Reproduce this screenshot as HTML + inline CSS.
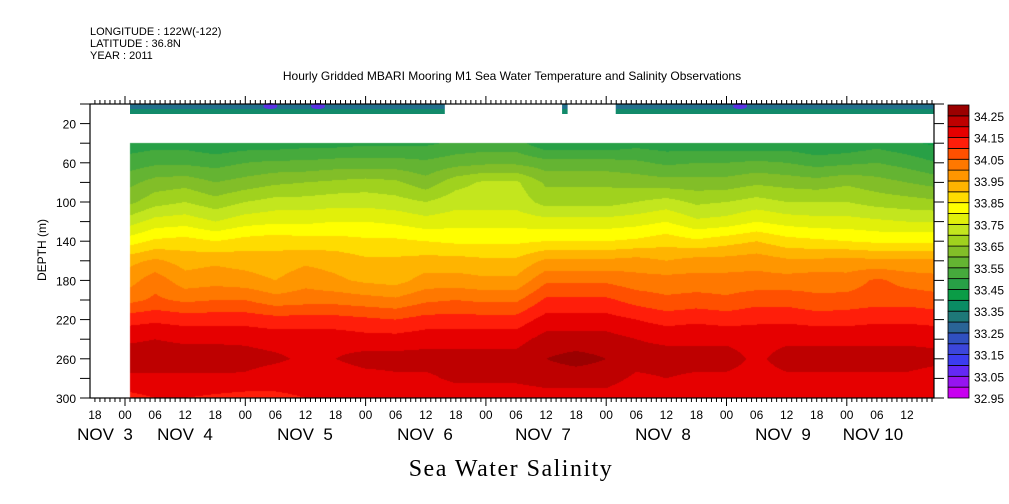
<!DOCTYPE html>
<html><head><meta charset="utf-8">
<style>
body{margin:0;background:#fff;}
#wrap{position:relative;width:1009px;height:504px;overflow:hidden;background:#fff;font-family:"Liberation Sans",sans-serif;}
canvas,svg{position:absolute;left:0;top:0;}
</style></head>
<body>
<div id="wrap">
<canvas id="field" width="1009" height="504"></canvas>
<svg id="svg" width="1009" height="504"></svg>
</div>
<script>
// ---- data ----
const depths = [40,60,80,100,120,140,160,180,200,220,240,260,280,300];
// time columns: hours since Nov 3 00:00, every 6 h
const hours = [0,6,12,18,24,30,36,42,48,54,60,66,72,78,84,90,96,102,108,114,120,126,132,138,144,150,156,162];
const sal40  = [33.47,33.48,33.48,33.46,33.47,33.47,33.48,33.48,33.49,33.49,33.49,33.51,33.52,33.52,33.46,33.46,33.46,33.48,33.47,33.47,33.47,33.46,33.47,33.45,33.46,33.48,33.46,33.44];
const sal60  = [33.52,33.54,33.54,33.53,33.55,33.56,33.56,33.57,33.57,33.57,33.56,33.58,33.59,33.59,33.57,33.57,33.57,33.56,33.54,33.55,33.55,33.56,33.55,33.53,33.54,33.55,33.53,33.50];
const sal80  = [33.58,33.62,33.63,33.60,33.62,33.64,33.65,33.66,33.67,33.66,33.62,33.68,33.71,33.71,33.64,33.64,33.64,33.63,33.62,33.62,33.62,33.64,33.63,33.62,33.64,33.62,33.60,33.58];
const sal100 = [33.63,33.68,33.70,33.67,33.70,33.72,33.72,33.73,33.73,33.72,33.70,33.73,33.73,33.73,33.68,33.68,33.68,33.70,33.72,33.69,33.70,33.72,33.70,33.70,33.70,33.68,33.67,33.66];
const sal120 = [33.72,33.77,33.78,33.75,33.78,33.79,33.79,33.80,33.80,33.79,33.77,33.78,33.78,33.78,33.77,33.77,33.77,33.78,33.80,33.76,33.77,33.80,33.78,33.77,33.77,33.76,33.75,33.75];
const sal140 = [33.82,33.86,33.87,33.85,33.87,33.88,33.87,33.87,33.86,33.86,33.85,33.84,33.84,33.84,33.85,33.85,33.85,33.86,33.88,33.86,33.88,33.90,33.87,33.86,33.85,33.84,33.84,33.84];
const sal160 = [33.93,33.96,33.93,33.94,33.93,33.92,33.94,33.93,33.91,33.91,33.92,33.92,33.91,33.91,33.96,33.96,33.96,33.97,33.95,33.97,33.97,33.98,33.96,33.96,33.97,33.96,33.96,33.96];
const sal180 = [33.97,34.03,33.97,33.98,33.97,33.95,33.98,33.96,33.94,33.93,33.97,33.97,33.96,33.96,34.04,34.04,34.04,34.02,34.02,34.02,34.02,34.02,34.02,34.03,34.02,34.06,34.03,34.02];
const sal200 = [34.03,34.06,34.04,34.05,34.05,34.02,34.03,34.03,34.02,34.01,34.04,34.05,34.04,34.04,34.11,34.11,34.11,34.08,34.06,34.07,34.06,34.08,34.08,34.06,34.07,34.08,34.08,34.07];
const sal220 = [34.13,34.14,34.13,34.13,34.13,34.12,34.12,34.12,34.11,34.10,34.12,34.12,34.12,34.12,34.17,34.17,34.17,34.15,34.13,34.14,34.13,34.14,34.14,34.13,34.13,34.14,34.14,34.13];
const sal240 = [34.19,34.20,34.19,34.19,34.19,34.18,34.18,34.18,34.17,34.17,34.18,34.18,34.18,34.18,34.22,34.22,34.22,34.20,34.19,34.19,34.19,34.18,34.19,34.19,34.19,34.19,34.19,34.19];
const sal260 = [34.23,34.23,34.23,34.23,34.22,34.21,34.19,34.20,34.22,34.22,34.22,34.22,34.22,34.22,34.25,34.27,34.25,34.22,34.22,34.22,34.22,34.19,34.22,34.22,34.22,34.22,34.22,34.21];
const sal280 = [34.19,34.19,34.19,34.19,34.19,34.17,34.17,34.17,34.18,34.19,34.19,34.21,34.21,34.21,34.22,34.22,34.22,34.19,34.20,34.19,34.19,34.18,34.19,34.19,34.19,34.19,34.19,34.18];
const sal300 = [34.13,34.15,34.15,34.14,34.13,34.14,34.15,34.15,34.15,34.16,34.16,34.17,34.17,34.17,34.18,34.18,34.18,34.16,34.17,34.17,34.17,34.17,34.17,34.17,34.17,34.17,34.17,34.17];
const grid = [sal40,sal60,sal80,sal100,sal120,sal140,sal160,sal180,sal200,sal220,sal240,sal260,sal280,sal300];
// surface (≈1 m) sensor: coverage segments in hours since Nov 3 00
const surfStart = [1, 87.2, 97.9];
const surfEnd   = [63.8, 88.3, 162];
const lowSalHours = [29, 38.5, 122.7];
const levels = [32.95,33.00,33.05,33.10,33.15,33.20,33.25,33.30,33.35,33.40,33.45,33.50,33.55,33.60,33.65,33.70,33.75,33.80,33.85,33.90,33.95,34.00,34.05,34.10,34.15,34.20,34.25,34.30];
const labelLevels = ["34.25","34.15","34.05","33.95","33.85","33.75","33.65","33.55","33.45","33.35","33.25","33.15","33.05","32.95"];
const hourTicks = ["18","00","06","12","18","00","06","12","18","00","06","12","18","00","06","12","18","00","06","12","18","00","06","12","18","00","06","12"];
const hourTickTimes = [-6,0,6,12,18,24,30,36,42,48,54,60,66,72,78,84,90,96,102,108,114,120,126,132,138,144,150,156];
const dateLabels = ["NOV  3","NOV  4","NOV  5","NOV  6","NOV  7","NOV  8","NOV  9","NOV 10"];
const dateLabelX = [105,185,305,425,543,663,783,873];
const depthTicks = [20,60,100,140,180,220,260,300];

const colors = ["#c800f0","#9614f0","#6428f5","#3c3cf0","#3c46dc","#3050c0","#2a6496","#1e7878","#0a8c64","#0a9c46","#28a046","#46aa3c","#64b432","#82be28","#a0d21e","#c3e61e","#e1f00a","#ffff00","#ffdc00","#ffb400","#ff9600","#ff7800","#ff5000","#ff1e0a","#e60000","#be0000","#9b0000"];

// ---- axes ----
const X0=90,X1=934,Y0=104,Y1=398;
const pxPerHour = 120.3/24, xNov3 = 125;
const xOf = h => xNov3 + h*pxPerHour;
const yOf = d => Y0 + d*(Y1-Y0)/300;
const dataX0 = 130;

// ---- field ----
const cv=document.getElementById('field'), ctx=cv.getContext('2d');
function hexRGB(c){return [parseInt(c.slice(1,3),16),parseInt(c.slice(3,5),16),parseInt(c.slice(5,7),16)];}
const rgbs = colors.map(hexRGB);
function colorIdx(v){let i=Math.floor((v-levels[0])/0.05);return Math.max(0,Math.min(colors.length-1,i));}
const img=ctx.createImageData(1009,504);
const yTop=Math.round(yOf(depths[0])), yBot=Y1;
for(let py=yTop;py<yBot;py++){
  const d=(py+0.5-Y0)*300/(Y1-Y0);
  let r=0; while(r<depths.length-2 && depths[r+1]<d) r++;
  const fy=Math.max(0,Math.min(1,(d-depths[r])/(depths[r+1]-depths[r])));
  for(let px=dataX0;px<X1;px++){
    const h=(px+0.5-xNov3)/pxPerHour;
    let c=0; while(c<hours.length-2 && hours[c+1]<h) c++;
    const fx=Math.max(0,Math.min(1,(h-hours[c])/(hours[c+1]-hours[c])));
    const v=(grid[r][c]*(1-fx)+grid[r][c+1]*fx)*(1-fy)+(grid[r+1][c]*(1-fx)+grid[r+1][c+1]*fx)*fy;
    const col=rgbs[colorIdx(v)], k=(py*1009+px)*4;
    img.data[k]=col[0];img.data[k+1]=col[1];img.data[k+2]=col[2];img.data[k+3]=255;
  }
}
ctx.putImageData(img,0,0);

// ---- svg ----
const NS="http://www.w3.org/2000/svg", svg=document.getElementById('svg');
function mk(tag,attrs,parent){const e=document.createElementNS(NS,tag);for(const k in attrs)e.setAttribute(k,attrs[k]);(parent||svg).appendChild(e);return e;}
function txt(s,attrs,parent){const e=mk('text',attrs,parent);e.textContent=s;return e;}

// surface strip
const strip=mk('g',{});


for(let i=0;i<surfStart.length;i++){
  const xa=Math.max(dataX0,xOf(surfStart[i])), xb=Math.min(X1,xOf(surfEnd[i]));
  const s1=mk('rect',{x:xa,y:104,width:xb-xa,height:5,fill:'#22708c'},strip);
  
  
  mk('rect',{x:xa,y:109,width:xb-xa,height:5,fill:'#128a6a'},strip);
}
for(let i=0;i<lowSalHours.length;i++){
  const b=mk('ellipse',{cx:xOf(lowSalHours[i]),cy:106,rx:7,ry:3,fill:'#6428f5',opacity:0.85},strip);
  
  
}

// frame
const frame=mk('rect',{x:X0,y:Y0,width:X1-X0,height:Y1-Y0,fill:'none',stroke:'#000','stroke-width':1.2});



// x ticks (hourly minor, daily major)
const xt=mk('g',{stroke:'#000','stroke-width':1});


for(let h=-7;h<=163;h++){
  const x=xOf(h); if(x<X0||x>X1) continue;
  const major=(h%24===0), len=major?8:4;
  mk('line',{x1:x,y1:Y1,x2:x,y2:Y1+len},xt);
  mk('line',{x1:x,y1:Y0,x2:x,y2:Y0-len},xt);
}
const xl=mk('g',{'font-size':'12','text-anchor':'middle',fill:'#000'});


for(let i=0;i<hourTicks.length;i++){
  const t=txt(hourTicks[i],{x:xOf(hourTickTimes[i]),y:419},xl);
  
  
}
const dl=mk('g',{'font-size':'17','text-anchor':'middle',fill:'#000','font-weight':'normal'});


for(let i=0;i<dateLabels.length;i++){
  const t=txt(dateLabels[i],{x:dateLabelX[i],y:440,'xml:space':'preserve',style:'white-space:pre'},dl);
  
  
}

// y ticks
const yt=mk('g',{stroke:'#000','stroke-width':1});


for(let d=0;d<=300;d+=20){
  mk('line',{x1:X0-10,y1:yOf(d),x2:X0,y2:yOf(d)},yt);
  mk('line',{x1:X1,y1:yOf(d),x2:X1+10,y2:yOf(d)},yt);
}
const yl=mk('g',{'font-size':'12','text-anchor':'end',fill:'#000'});


for(const d of depthTicks){
  const t=txt(String(d),{x:76,y:yOf(d)+5},yl);
  
  
}
const yTitle=txt('DEPTH (m)',{x:46,y:250,'font-size':'12','text-anchor':'middle',transform:'rotate(-90 46 250)'});



// header text
const hdr=[['LONGITUDE : 122W(-122)',35],['LATITUDE : 36.8N',47],['YEAR : 2011',59]];
for(const [s,y] of hdr){
  const t=txt(s,{x:90,y:y,'font-size':'11'});
  
  
}
const title=txt('Hourly Gridded MBARI Mooring M1 Sea Water Temperature and Salinity Observations',{x:512,y:80,'font-size':'12','text-anchor':'middle'});


const xTitle=txt('Sea Water Salinity',{x:511,y:476,'font-size':'24','text-anchor':'middle','font-family':'Liberation Serif, serif','letter-spacing':'1.5'});



// colorbar
const cb=mk('g',{});


const cbTop=105, cbBot=398, n=colors.length, bh=(cbBot-cbTop)/n;
for(let i=0;i<n;i++){
  const r=mk('rect',{x:948,y:cbBot-(i+1)*bh,width:21,height:bh,fill:colors[i],stroke:'#000','stroke-width':0.8},cb);
  
  
}
for(let j=0;j<labelLevels.length;j++){
  const v=parseFloat(labelLevels[j]);
  const y=cbBot-(v-levels[0])/0.05*bh;
  const t=txt(labelLevels[j],{x:974,y:y+5,'font-size':'12'},cb);
  
  
}
</script>
</body></html>
